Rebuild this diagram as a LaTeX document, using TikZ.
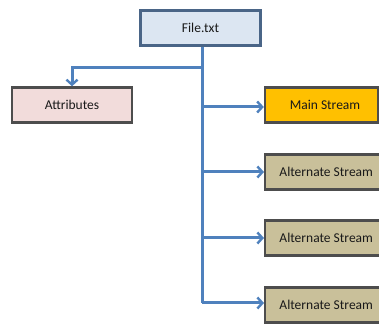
\documentclass[tikz,border=0pt]{standalone}
\usepackage{fontspec}
\setmainfont{Carlito}
\usetikzlibrary{arrows.meta}
\definecolor{linkblue}{HTML}{4F81BD}
\definecolor{fileblue}{HTML}{DCE6F2}
\definecolor{fileborder}{HTML}{4A6587}
\definecolor{attrpink}{HTML}{F2DCDB}
\definecolor{mainorange}{HTML}{FFC000}
\definecolor{alttan}{HTML}{C9C09A}
\definecolor{boxborder}{HTML}{4D4D4D}
\begin{document}
\begin{tikzpicture}[x=1pt,y=1pt,
  box/.style={draw=boxborder, line width=2.4pt, minimum height=35pt, inner sep=0pt,
    font=\fontsize{13.5}{15}\selectfont, text=black!90},
  link/.style={draw=linkblue, line width=3pt, -{Straight Barb[length=5pt,width=11pt,line width=2.4pt]}},
  trunk/.style={draw=linkblue, line width=3pt}]
\useasboundingbox (0,0) rectangle (379,323);
\begin{scope}
\clip (0,0) rectangle (379,323);
\node[box, draw=fileborder, fill=fileblue, minimum width=120pt] (file) at (200.5,295) {File.txt};
\node[box, fill=attrpink, minimum width=120pt] (attr) at (72,218) {Attributes};
\node[box, fill=mainorange, minimum width=113pt] (main) at (321.5,218) {\hspace*{7pt}Main Stream};
\node[box, fill=alttan, minimum width=122pt, anchor=west] (alt1) at (264,151) {Alternate Stream};
\node[box, fill=alttan, minimum width=122pt, anchor=west] (alt2) at (264,85) {Alternate Stream};
\node[box, fill=alttan, minimum width=122pt, anchor=west] (alt3) at (264,18) {Alternate Stream};
\coordinate (jA) at (202,255);
\coordinate (jM) at (202,216);
\coordinate (j1) at (202,151);
\coordinate (j2) at (202,85);
\coordinate (j3) at (202,20);
\coordinate (cA) at (72,255);
\draw[trunk] (file.south -| jA) -- (j3);
\draw[link] (jA) -- (cA) -- (attr.north);
\draw[link] (jM) -- (jM -| main.west);
\draw[link] (j1) -- (alt1.west);
\draw[link] (j2) -- (alt2.west);
\draw[link] (j3) -- (j3 -| alt3.west);
\end{scope}
\end{tikzpicture}
\end{document}
